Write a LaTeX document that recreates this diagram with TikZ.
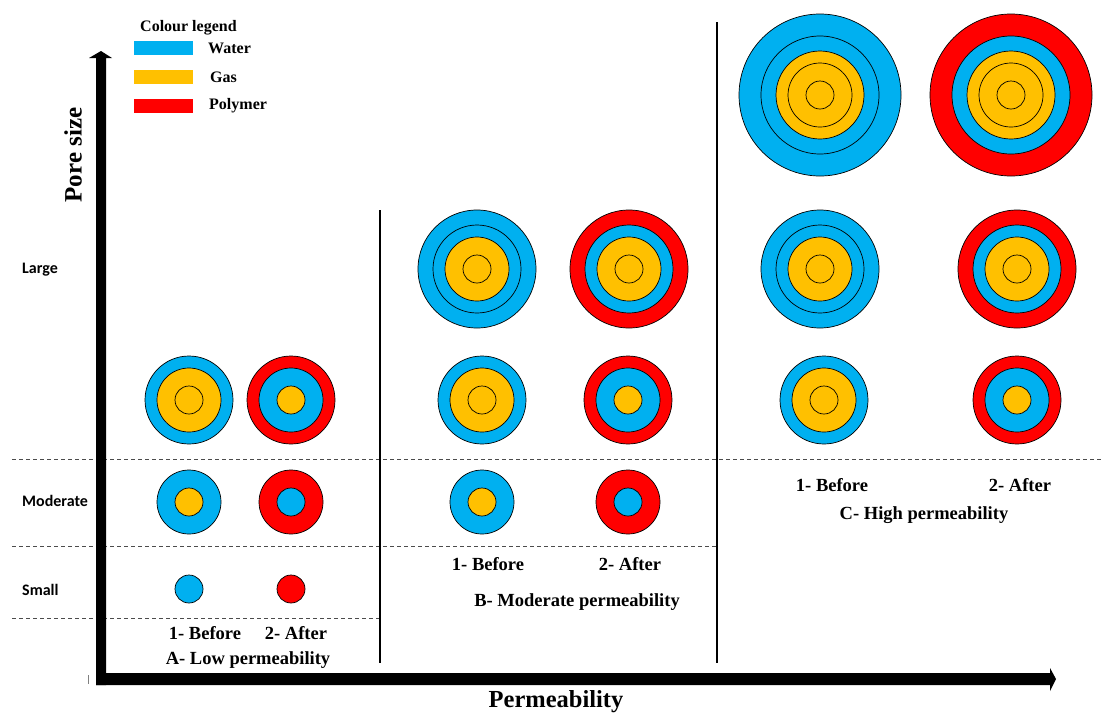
\documentclass[tikz,border=0pt]{standalone}
\usepackage{fontspec}
\setmainfont{Liberation Serif}
\newfontfamily\carlito{Carlito}
\definecolor{wat}{HTML}{00B0F0}
\definecolor{gs}{HTML}{FFC000}
\definecolor{pol}{HTML}{FF0000}
\begin{document}
\begin{tikzpicture}[x=1pt,y=-1pt,
  wf/.style={fill=wat,draw=black,line width=0.7pt},
  gf/.style={fill=gs,draw=black,line width=0.7pt},
  pf/.style={fill=pol,draw=black,line width=0.7pt},
  rl/.style={draw=black,line width=0.7pt},
  lbl/.style={font=\bfseries\fontsize{18.5}{20}\selectfont,inner sep=0pt},
  leg/.style={font=\bfseries\fontsize{16}{18}\selectfont,anchor=west,inner sep=0pt},
  sz/.style={font=\carlito\bfseries\fontsize{16}{18}\selectfont,anchor=west,inner sep=0pt},
  sep/.style={draw=black!70,line width=0.8pt,dash pattern=on 4pt off 3pt},
  vline/.style={draw=black,line width=1.3pt},
  legbox/.style={rectangle,minimum width=59pt,minimum height=14pt,inner sep=0pt}
]
\useasboundingbox (0,0) rectangle (1102,713);

% separators
\draw[sep] (12,459) -- (1102,459);
\draw[sep] (12,546) -- (717,546);
\draw[sep] (12,618) -- (380,618);
\draw[vline] (380,210) -- (380,663);
\draw[vline] (717,22) -- (717,663);

% axes
\fill (96,685) -- (96,58) -- (89,58) -- (101,51) -- (112,58) -- (106,58) -- (106,685) -- cycle;
\fill (96,673) -- (1050,673) -- (1050,668) -- (1056,679) -- (1050,691) -- (1050,685) -- (96,685) -- cycle;
\draw[black!50,line width=0.6pt] (88,675) -- (88,684);

\node[rotate=90,font=\bfseries\fontsize{25}{27}\selectfont,inner sep=0pt] (ylab) at (73,155) {Pore size};
\node[font=\bfseries\fontsize{24.5}{27}\selectfont,inner sep=0pt,anchor=base] (xlab) at (556,707) {Permeability};

\node[sz] (large) at (22,270) {Large};
\node[sz] (moderate) at (22,501) {Moderate};
\node[sz] (small) at (22,590) {Small};

% legend
\node[leg] (legt) at (140,28) {Colour legend};
\node[legbox,fill=wat] (lw) at (163.5,48) {};
\node[legbox,fill=gs] (lg) at (163.5,77) {};
\node[legbox,fill=pol] (lp) at (163.5,106) {};
\node[leg] (tw) at (208,48) {Water};
\node[leg] (tg) at (210,77) {Gas};
\node[leg] (tp) at (209,106) {Polymer};

% ---- A: low permeability
\draw[wf] (189,400) circle[radius=44pt];
\draw[gf] (189,400) circle[radius=32pt];
\draw[rl] (189,400) circle[radius=14pt];
\draw[pf] (291,400) circle[radius=44pt];
\draw[wf] (291,400) circle[radius=32pt];
\draw[gf] (291,400) circle[radius=14pt];
\draw[wf] (189,502) circle[radius=32pt];
\draw[gf] (189,502) circle[radius=14pt];
\draw[pf] (291,502) circle[radius=32pt];
\draw[wf] (291,502) circle[radius=14pt];
\draw[wf] (189,589) circle[radius=14pt];
\draw[pf] (291,589) circle[radius=14pt];

\node[lbl] (a1) at (205,633) {1- Before};
\node[lbl] (a2) at (296,633) {2- After};
\node[lbl] (a3) at (248,660) {A- Low permeability};

% ---- B: moderate permeability
\draw[wf] (477,269) circle[radius=59pt];
\draw[rl] (477,269) circle[radius=44pt];
\draw[gf] (477,269) circle[radius=32pt];
\draw[rl] (477,269) circle[radius=14pt];
\draw[pf] (629,269) circle[radius=59pt];
\draw[wf] (629,269) circle[radius=44pt];
\draw[gf] (629,269) circle[radius=32pt];
\draw[rl] (629,269) circle[radius=14pt];
\draw[wf] (482,400) circle[radius=44pt];
\draw[gf] (482,400) circle[radius=32pt];
\draw[rl] (482,400) circle[radius=14pt];
\draw[pf] (628,400) circle[radius=44pt];
\draw[wf] (628,400) circle[radius=32pt];
\draw[gf] (628,400) circle[radius=14pt];
\draw[wf] (482,502) circle[radius=32pt];
\draw[gf] (482,502) circle[radius=14pt];
\draw[pf] (628,502) circle[radius=32pt];
\draw[wf] (628,502) circle[radius=14pt];

\node[lbl] (b1) at (488,564) {1- Before};
\node[lbl] (b2) at (630,564) {2- After};
\node[lbl] (b3) at (577,602) {B- Moderate permeability};

% ---- C: high permeability
\draw[wf] (820,95) circle[radius=81pt];
\draw[rl] (820,95) circle[radius=59pt];
\draw[gf] (820,95) circle[radius=44pt];
\draw[rl] (820,95) circle[radius=32pt];
\draw[rl] (820,95) circle[radius=14pt];
\draw[pf] (1011,95) circle[radius=81pt];
\draw[wf] (1011,95) circle[radius=59pt];
\draw[gf] (1011,95) circle[radius=44pt];
\draw[rl] (1011,95) circle[radius=32pt];
\draw[rl] (1011,95) circle[radius=14pt];
\draw[wf] (820,269) circle[radius=59pt];
\draw[rl] (820,269) circle[radius=44pt];
\draw[gf] (820,269) circle[radius=32pt];
\draw[rl] (820,269) circle[radius=14pt];
\draw[pf] (1017,269) circle[radius=59pt];
\draw[wf] (1017,269) circle[radius=44pt];
\draw[gf] (1017,269) circle[radius=32pt];
\draw[rl] (1017,269) circle[radius=14pt];
\draw[wf] (824,400) circle[radius=44pt];
\draw[gf] (824,400) circle[radius=32pt];
\draw[rl] (824,400) circle[radius=14pt];
\draw[pf] (1017,400) circle[radius=44pt];
\draw[wf] (1017,400) circle[radius=32pt];
\draw[gf] (1017,400) circle[radius=14pt];

\node[lbl] (c1) at (832,485) {1- Before};
\node[lbl] (c2) at (1020,485) {2- After};
\node[lbl] (c3) at (924,515) {C- High permeability};
\end{tikzpicture}
\end{document}
